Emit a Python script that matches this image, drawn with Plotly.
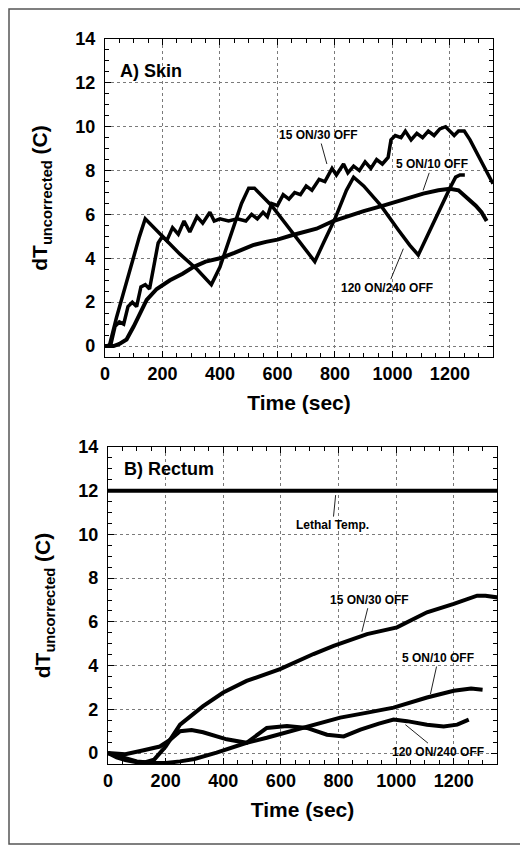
import plotly.graph_objects as go

# ---- data ----
# A) Skin
skin_t_120 = [0, 15, 40, 70, 95, 120, 140, 200, 260, 320, 370, 400, 440, 475, 500, 520, 580, 640, 700, 730,
              760, 800, 840, 865, 900, 960, 1020, 1060, 1090, 1120, 1160, 1200, 1220, 1235, 1252]
skin_v_120 = [0, 0, 1.3, 2.7, 3.9, 5.0, 5.8, 5.0, 4.2, 3.5, 2.8, 3.6, 5.2, 6.5, 7.2, 7.2, 6.4, 5.4, 4.4, 3.85,
              4.7, 5.8, 7.1, 7.7, 7.3, 6.4, 5.3, 4.6, 4.15, 5.0, 6.1, 7.2, 7.7, 7.8, 7.8]

skin_t_15 = [0, 20, 35, 50, 65, 80, 95, 110, 125, 140, 155, 170, 185, 200, 215, 235, 255, 275, 295, 320,
             340, 365, 380, 400, 430, 460, 490, 510, 530, 550, 565, 580, 600, 620, 640, 660, 680, 700, 720,
             745, 765, 790, 805, 830, 845, 865, 885, 905, 925, 945, 965, 985, 995, 1010, 1030, 1045, 1065,
             1085, 1105, 1125, 1145, 1165, 1185, 1200, 1215, 1230, 1250, 1270, 1290, 1310, 1330, 1350]
skin_v_15 = [0, 0.05, 0.9, 1.1, 1.0, 1.8, 2.0, 1.8, 2.7, 2.8, 2.6, 3.6, 4.7, 5.0, 4.8, 5.4, 5.1, 5.7, 5.2, 5.9,
             5.6, 6.1, 5.7, 5.8, 5.7, 5.8, 5.7, 6.0, 5.8, 6.1, 5.9, 6.5, 6.4, 6.9, 6.7, 7.0, 6.9, 7.3, 7.1,
             7.6, 7.5, 8.1, 7.8, 8.3, 7.9, 8.2, 8.0, 8.4, 8.1, 8.5, 8.3, 8.6, 9.4, 9.6, 9.5, 9.8, 9.4,
             9.7, 9.5, 9.8, 9.6, 9.9, 10.0, 9.8, 9.6, 9.8, 9.8, 9.4, 8.9, 8.4, 7.9, 7.4]

skin_t_5 = [0, 30, 50, 75, 100, 125, 145, 180, 226, 270, 307, 350, 400, 450, 515, 560, 600, 650, 700, 736,
            794, 850, 900, 968, 1040, 1107, 1160, 1200, 1230, 1258, 1290, 1310, 1328]
skin_v_5 = [0, 0, 0.1, 0.3, 0.9, 1.6, 2.1, 2.6, 3.0, 3.3, 3.6, 3.85, 4.0, 4.25, 4.6, 4.75, 4.85, 5.05, 5.2, 5.35,
            5.7, 5.95, 6.15, 6.4, 6.7, 6.95, 7.1, 7.17, 7.1, 6.8, 6.4, 6.1, 5.7]

# B) Rectum
rect_t_15 = [0, 30, 60, 100, 130, 160, 200, 250, 330, 400, 481, 597, 713, 783, 899, 1003, 1107, 1200, 1281, 1310, 1351]
rect_v_15 = [0, -0.2, -0.32, -0.42, -0.42, -0.3, 0.3, 1.3, 2.15, 2.77, 3.3, 3.84, 4.53, 4.9, 5.44, 5.75, 6.44,
             6.82, 7.2, 7.2, 7.12]

rect_t_5 = [0, 40, 100, 150, 200, 250, 300, 377, 481, 551, 620, 690, 806, 900, 991, 1107, 1200, 1260, 1300]
rect_v_5 = [0, -0.15, -0.38, -0.44, -0.45, -0.38, -0.27, 0.02, 0.47, 0.7, 0.95, 1.24, 1.62, 1.85, 2.08, 2.54,
            2.85, 2.95, 2.9]

rect_t_120 = [0, 60, 120, 180, 215, 250, 290, 330, 412, 481, 551, 621, 690, 760, 818, 876, 940, 991, 1038,
              1107, 1165, 1212, 1252]
rect_v_120 = [0, -0.05, 0.12, 0.3, 0.6, 1.0, 1.05, 0.95, 0.63, 0.47, 1.15, 1.24, 1.15, 0.84, 0.76, 1.07, 1.35,
              1.53, 1.46, 1.3, 1.22, 1.3, 1.53]

lethal_t = [0, 1350]
lethal_v = [12, 12]

x_range = [0, 1350]
y_range = [-0.5, 14]

FONT = "Liberation Sans, Arial, sans-serif"
BLACK = "#000000"
GRID = "#7a7a7a"

fig = go.Figure()


def line(t, v, ax="x", ay="y", w=4):
    fig.add_trace(go.Scatter(x=t, y=v, mode="lines", xaxis=ax, yaxis=ay,
                             line=dict(color=BLACK, width=w), showlegend=False, hoverinfo="skip"))


line(skin_t_120, skin_v_120, w=3.5)
line(skin_t_15, skin_v_15, w=3.5)
line(skin_t_5, skin_v_5)
line(rect_t_15, rect_v_15, "x2", "y2")
line(rect_t_5, rect_v_5, "x2", "y2")
line(rect_t_120, rect_v_120, "x2", "y2")
line(lethal_t, lethal_v, "x2", "y2")

xaxis_style = dict(range=x_range, dtick=200, tick0=0, ticks="inside", ticklen=6, tickwidth=1, tickcolor=BLACK,
                   minor=dict(ticks="inside", ticklen=4, dtick=50, tickcolor=BLACK, showgrid=False),
                   showline=True, linecolor=BLACK, linewidth=1.2, mirror="allticks",
                   showgrid=True, gridcolor=GRID, griddash="dot", gridwidth=1, zeroline=False,
                   tickfont=dict(size=18, family=FONT, color=BLACK, weight="bold"),
                   title=dict(text="Time (sec)", standoff=12,
                              font=dict(size=21, family=FONT, color=BLACK, weight="bold")),
                   automargin=False)
yaxis_style = dict(range=y_range, dtick=2, tick0=0, ticks="inside", ticklen=6, tickwidth=1, tickcolor=BLACK,
                   minor=dict(ticks="inside", ticklen=4, dtick=0.5, tickcolor=BLACK, showgrid=False),
                   showline=True, linecolor=BLACK, linewidth=1.2, mirror="allticks",
                   showgrid=True, gridcolor=GRID, griddash="dot", gridwidth=1, zeroline=False,
                   ticklabelstandoff=5,
                   tickfont=dict(size=18, family=FONT, color=BLACK, weight="bold"),
                   title=dict(text="dT<sub>uncorrected</sub> (C)", standoff=21,
                              font=dict(size=21, family=FONT, color=BLACK, weight="bold")),
                   automargin=False)

# the page body has an 8px margin, so the figure is 8px smaller and coords are shifted by 8
W, H = 520, 842
fig.update_layout(
    width=W, height=H, margin=dict(l=0, r=0, t=0, b=0),
    paper_bgcolor="white", plot_bgcolor="white",
    font=dict(family=FONT, color=BLACK),
    xaxis=dict(xaxis_style, domain=[97 / W, 485 / W], anchor="y"),
    yaxis=dict(yaxis_style, domain=[1 - 349 / H, 1 - 31 / H], anchor="x"),
    xaxis2=dict(xaxis_style, domain=[100 / W, 489 / W], anchor="y2"),
    yaxis2=dict(yaxis_style, domain=[1 - 756 / H, 1 - 439 / H], anchor="x2"),
)

lab = dict(size=12, family=FONT, color=BLACK, weight="bold")


def note(text, x, y, ax, ay, xr="x", yr="y"):
    fig.add_annotation(text=text, x=x, y=y, xref=xr, yref=yr, ax=ax, ay=ay,
                       showarrow=True, arrowhead=0, arrowwidth=1, arrowcolor="#222",
                       font=lab, bgcolor="rgba(0,0,0,0)")


note("15 ON/30 OFF", 772, 8.3, -8, -29)
note("5 ON/10 OFF", 1107, 7.1, 9, -26)
note("120 ON/240 OFF", 1038, 4.44, -16, 39)
note("Lethal Temp.", 790, 11.8, -3, 30, "x2", "y2")
note("15 ON/30 OFF", 881, 5.55, 8, -32, "x2", "y2")
note("5 ON/10 OFF", 1119, 2.7, 8, -36, "x2", "y2")
note("120 ON/240 OFF", 1032, 1.3, 33, 27, "x2", "y2")

panel = dict(size=18, family=FONT, color=BLACK, weight="bold")
fig.add_annotation(text="A) Skin", x=45, y=12.55, xref="x", yref="y", xanchor="left",
                   showarrow=False, font=panel)
fig.add_annotation(text="B) Rectum", x=47, y=13.0, xref="x2", yref="y2", xanchor="left",
                   showarrow=False, font=panel)

# outer frame
fig.add_shape(type="rect", xref="paper", yref="paper", x0=1 / W, x1=513 / W, y0=1 - 836 / H, y1=1 - 1 / H,
              line=dict(color="#555", width=1.5))

fig.write_html("out.html")
